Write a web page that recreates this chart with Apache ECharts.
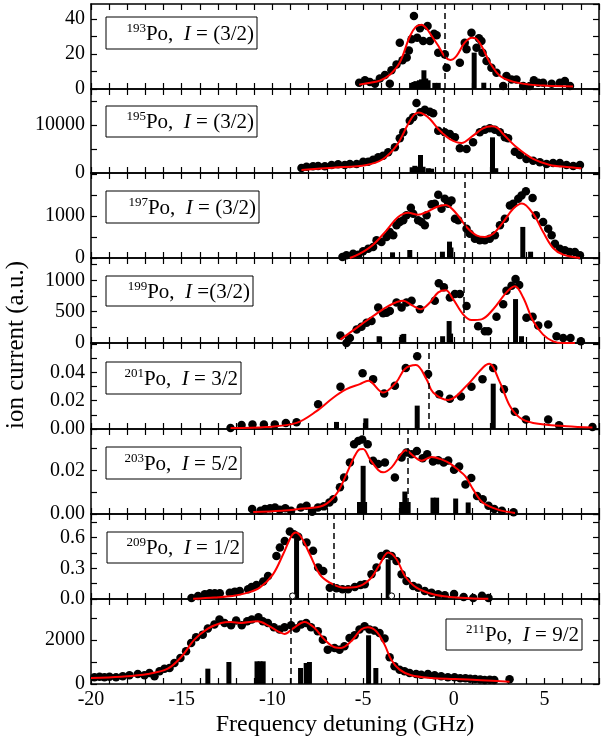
<!DOCTYPE html>
<html>
<head>
<meta charset="utf-8">
<script src="https://cdn.jsdelivr.net/npm/echarts@6/dist/echarts.min.js"></script>
</head>
<body style="margin:0">
<div id="container" style="width:601px;height:746px"></div>
<script>
// ---- data (x in GHz) ----
var p193Dots = [[-5.22,3.6],[-4.9,5],[-4.63,4],[-4.35,3],[-4.08,6],[-3.8,8],[-3.53,3],[-3.44,10.7],[-3.16,14],[-2.98,26.5],[-2.83,16.4],[-2.6,18],[-2.48,22],[-2.33,28.4],[-2.2,41.7],[-2.02,29.3],[-1.87,34.7],[-1.69,27.4],[-1.45,36],[-1.32,27.4],[-1.09,31.6],[-0.95,30.7],[-0.86,20.7],[-0.5,19.8],[-0.4,12.2],[0.33,15],[0.6,26.5],[0.7,22.7],[0.97,32.2],[1.25,23.6],[1.38,29],[1.52,27.4],[1.58,20.7],[1.8,16],[2.07,12.2],[2.35,9.3],[2.72,1.7],[2.9,7.4],[3.18,5.5],[3.45,5.5],[3.82,1.7],[4.19,1.7],[4.41,5],[4.65,3.6],[4.92,3.6],[5.39,3],[5.84,3.6],[6.12,4.6],[6.4,1.7]];
var p193Fit = [[-5.22,2.5],[-4.6,3.6],[-4.08,4.8],[-3.53,8.2],[-2.98,15.2],[-2.43,30],[-2.1,35.5],[-1.78,36.8],[-1.5,34.5],[-1.2,30],[-0.86,24.7],[-0.5,18.5],[-0.2,16.6],[0.15,19],[0.6,26.5],[1.0,29.3],[1.2,29],[1.52,24.7],[1.98,15.2],[2.53,7.6],[3.26,4.2],[4.19,2.5],[5.1,1.9],[6.57,1.5]];
var p193Bars = [[-2.33,3.5],[-2.2,4],[-2.09,4.5],[-1.9,5],[-1.78,5.5],[-1.65,10.7],[-1.55,6],[-1.42,5],[-1.05,3.5],[-0.86,3.5],[1.12,20.8],[1.65,3.6]];

var p195Dots = [[-8.4,1040],[-8.12,1320],[-7.76,1390],[-7.48,1460],[-7.11,1390],[-6.74,1670],[-6.38,1800],[-6.01,1670],[-5.73,1875],[-5.36,1875],[-5.0,2360],[-4.72,2360],[-4.45,2780],[-4.17,3260],[-3.9,3610],[-3.62,4300],[-3.25,5350],[-2.98,7230],[-2.79,8470],[-2.43,10900],[-2.24,11600],[-2.06,14580],[-1.84,12640],[-1.6,13190],[-1.32,12780],[-1.14,12430],[-0.86,8820],[-0.5,8470],[-0.22,8120],[0.06,7430],[0.33,5140],[0.7,5000],[1.06,6390],[1.43,8470],[1.71,9030],[1.98,9300],[2.26,9030],[2.54,8470],[2.81,7430],[2.99,7230],[3.36,4440],[3.64,3750],[4.0,2920],[4.37,2570],[4.74,2220],[5.11,1870],[5.47,2080],[5.84,2080],[6.21,1670],[6.58,1460],[6.95,1670]];
var p195Fit = [[-8.4,625],[-6.65,1110],[-4.81,1670],[-3.9,2920],[-3.16,5690],[-2.52,10200],[-2.2,12100],[-1.93,12600],[-1.6,12100],[-1.32,11250],[-0.77,8820],[-0.22,7080],[0.42,6250],[1.06,7780],[1.61,9300],[2.07,9720],[2.4,9400],[2.72,8120],[3.46,5350],[4.37,2920],[5.29,1670],[6.21,1250],[7.03,980]];
var p195Bars = [[-2.3,1200],[-2.15,1500],[-2.0,1300],[-1.84,3750],[-1.7,1300],[-1.41,1000],[-1.23,900],[2.13,7430],[2.31,1000]];

var p197Dots = [[-6.14,24],[-5.92,63],[-5.55,103],[-5.27,79],[-5,159],[-4.72,222],[-4.45,262],[-4.26,421],[-3.99,381],[-3.71,500],[-3.53,619],[-3.34,540],[-3.16,778],[-2.98,857],[-2.79,897],[-2.61,1016],[-2.37,1198],[-2.24,1055],[-1.97,897],[-1.78,857],[-1.6,778],[-1.5,1016],[-1.23,1277],[-1.05,1293],[-0.86,1507],[-0.68,1174],[-0.5,1412],[-0.31,1293],[-0.13,1372],[0.06,936],[0.24,897],[0.7,698],[0.88,579],[1.16,460],[1.43,421],[1.71,421],[1.98,460],[2.26,540],[2.54,778],[2.81,936],[3.09,1253],[3.27,1293],[3.55,1412],[3.73,1491],[3.97,1587],[4.34,1428],[4.52,1016],[4.92,857],[5.2,698],[5.39,540],[5.57,341],[5.84,222],[6.12,182],[6.39,143],[6.67,143],[6.95,63]];
var p197Fit = [[-5.73,0],[-5.18,103],[-4.45,317],[-3.71,659],[-3.07,976],[-2.52,1079],[-1.97,1031],[-1.5,1095],[-0.95,1214],[-0.45,1265],[0.15,1055],[0.7,738],[1.24,540],[1.71,500],[2.17,579],[2.72,857],[3.27,1174],[3.75,1300],[4.37,1055],[4.92,619],[5.47,238],[6.02,79],[6.95,0]];
var p197Bars = [[-3.38,135],[-2.43,190],[-0.63,150],[-0.24,390],[-0.16,250],[3.8,740],[4.23,150]];

var p199Dots = [[-6.25,118],[-5.92,0],[-5.73,81],[-5.36,215],[-5.09,258],[-4.81,323],[-4.54,350],[-4.17,565],[-3.9,473],[-3.71,484],[-3.53,511],[-3.16,645],[-2.88,565],[-2.61,645],[-2.33,672],[-1.87,538],[-1.05,672],[-0.83,952],[-0.55,887],[-0.22,726],[0.06,780],[0.33,780],[0.7,591],[1.34,269],[1.71,188],[1.89,188],[2.35,420],[2.72,618],[2.9,834],[3.18,914],[3.4,1021],[3.6,925],[4.0,403],[4.34,420],[4.65,280],[5.2,296],[5.66,108],[6.03,81],[6.43,81],[7.0,27]];
var p199Fit = [[-6.25,54],[-5.36,242],[-4.45,430],[-3.53,602],[-2.79,672],[-2.3,600],[-1.84,538],[-1.32,645],[-0.86,807],[-0.44,840],[-0.04,699],[0.51,457],[0.97,366],[1.52,377],[2.17,538],[2.9,807],[3.36,904],[3.82,726],[4.37,350],[4.92,134],[5.47,27],[6.02,0],[6.67,0]];
var p199Bars = [[-4.12,108],[-2.85,130],[-2.76,145],[-0.62,108],[-0.26,350],[-0.18,150],[3.4,700],[3.73,108]];

var p201Dots = [[-12.31,0.0007],[-11.7,0.0029],[-11.1,0.0031],[-10.47,0.0031],[-9.87,0.0031],[-9.26,0.0043],[-8.67,0.0048],[-7.48,0.0174],[-6.25,0.0298],[-5.03,0.0393],[-4.45,0.0352],[-3.84,0.025],[-3.25,0.0305],[-2.65,0.0431],[-2.02,0.0514],[-1.42,0.0388],[-0.81,0.0245],[-0.22,0.0214],[0.39,0.0229],[0.97,0.0298],[1.58,0.0352],[2.17,0.0431],[2.76,0.0281],[3.36,0.0121],[3.97,0.0067],[5.2,0.0067],[5.8,0.0026],[7.64,0.0014]];
var p201Fit = [[-12.31,0.0007],[-10.33,0.0014],[-8.67,0.0043],[-7.57,0.0126],[-6.65,0.0221],[-5.92,0.0281],[-5.18,0.0317],[-4.72,0.034],[-3.9,0.0257],[-3.16,0.0333],[-2.7,0.0424],[-2.09,0.0452],[-1.51,0.0352],[-1.14,0.0257],[-0.31,0.0205],[0.7,0.0305],[1.62,0.0436],[1.95,0.046],[2.54,0.0329],[3.09,0.0162],[3.64,0.0079],[4.37,0.0043],[6.21,0.0019],[7.64,0.001]];
var p201Bars = [[-6.47,0.005],[-4.85,0.0075],[-2.02,0.0165],[2.17,0.032]];

var p203Dots = [[-11.12,0.0023],[-10.66,0.0015],[-10.41,0.0023],[-10.13,0.0026],[-9.86,0.003],[-9.6,0.002],[-9.29,0.0026],[-8.97,0.0015],[-8.44,0.003],[-8.12,0.0038],[-7.81,0.001],[-7.49,0.003],[-7.17,0.0035],[-6.86,0.0053],[-6.64,0.0068],[-6.28,0.0123],[-6.05,0.0168],[-5.73,0.0236],[-5.5,0.032],[-5.27,0.0335],[-5.05,0.0342],[-4.75,0.032],[-4.45,0.0244],[-4.17,0.0229],[-3.8,0.0236],[-3.25,0.0168],[-2.88,0.0259],[-2.61,0.0282],[-2.33,0.0274],[-2.04,0.0289],[-1.72,0.0256],[-1.47,0.0274],[-1.15,0.0241],[-0.86,0.0247],[-0.56,0.0236],[-0.31,0.0245],[0.01,0.0203],[0.29,0.0218],[0.64,0.0135],[0.96,0.0165],[1.28,0.0083],[1.59,0.0068],[1.91,0.0038],[2.23,0.0023],[2.65,0.0015],[3.29,0.0008]];
var p203Fit = [[-11.06,0.0009],[-9.5,0.0015],[-8.49,0.0024],[-7.2,0.0039],[-6.47,0.0092],[-5.92,0.0183],[-5.46,0.0267],[-5.18,0.0297],[-5.0,0.0298],[-4.63,0.0252],[-4.17,0.0202],[-3.9,0.0191],[-3.43,0.0214],[-2.98,0.0267],[-2.65,0.0292],[-2.24,0.0267],[-1.78,0.0244],[-1.23,0.0262],[-0.59,0.0247],[-0.22,0.0232],[0.2,0.0205],[0.64,0.0173],[1.06,0.0113],[1.59,0.0053],[2.43,0.002],[3.37,0.0005]];
var p203Bars = [[-5.2,0.0055],[-5.0,0.0221],[-4.92,0.0055],[-2.88,0.0055],[-2.7,0.0103],[-2.52,0.0055],[-1.15,0.0075],[-0.95,0.0075],[0.1,0.0071],[0.79,0.0053]];

var p209Dots = [[-14.46,0.01],[-14.1,0.029],[-13.73,0.046],[-13.45,0.055],[-13.18,0.055],[-12.9,0.055],[-12.35,0.062],[-12.07,0.072],[-11.8,0.078],[-11.34,0.095],[-11.15,0.117],[-10.88,0.137],[-10.51,0.17],[-10.24,0.225],[-9.78,0.42],[-9.59,0.502],[-9.32,0.567],[-9.04,0.659],[-8.82,0.633],[-8.58,0.607],[-8.12,0.551],[-7.76,0.47],[-7.48,0.307],[-7.2,0.274],[-6.84,0.111],[-6.47,0.104],[-6.14,0.095],[-5.83,0.095],[-5.46,0.117],[-5.14,0.137],[-4.91,0.143],[-4.54,0.241],[-4.26,0.307],[-3.99,0.42],[-3.71,0.443],[-3.43,0.42],[-3.16,0.372],[-2.88,0.241],[-2.61,0.176],[-2.24,0.127],[-1.97,0.111],[-1.6,0.078],[-1.23,0.062],[-0.86,0.046],[-0.5,0.036],[0.01,0.048],[0.54,0.019],[1.07,0.01],[1.55,0.032],[1.91,0.01]];
var p209Fit = [[-14.37,0.003],[-13.2,0.015],[-12.2,0.029],[-11.4,0.06],[-10.7,0.111],[-9.97,0.241],[-9.41,0.437],[-8.95,0.616],[-8.71,0.649],[-8.4,0.6],[-7.94,0.437],[-7.39,0.241],[-6.84,0.16],[-6.1,0.111],[-5.37,0.117],[-4.63,0.192],[-4.08,0.339],[-3.62,0.453],[-3.16,0.388],[-2.7,0.225],[-2.06,0.111],[-1.14,0.046],[-0.22,0.02],[0.9,0.008],[1.9,0.003]];
var p209Bars = [[-8.67,0.593],[-3.62,0.388]];
var p209Open = [[-8.89,0.03],[-3.43,0.03]];

var p211Dots = [[-19.81,303],[-19.53,333],[-19.26,303],[-18.98,333],[-18.62,303],[-18.25,348],[-17.88,394],[-17.42,455],[-17.05,394],[-16.78,500],[-16.5,348],[-16.22,576],[-15.95,697],[-15.67,727],[-15.4,955],[-15.07,1182],[-14.76,1485],[-14.48,1864],[-14.21,2121],[-13.84,2242],[-13.56,2515],[-13.2,2697],[-12.92,2924],[-12.64,2773],[-12.28,2667],[-12.0,2879],[-11.69,2667],[-11.39,2848],[-11.14,2924],[-10.77,3030],[-10.53,2848],[-10.25,2773],[-9.92,2576],[-9.61,2470],[-9.33,2576],[-8.97,2667],[-8.69,2515],[-8.42,2697],[-8.14,2773],[-7.87,2576],[-7.5,2394],[-7.22,2015],[-6.95,1561],[-6.58,1636],[-6.3,1561],[-6.03,1712],[-5.75,2091],[-5.47,2212],[-5.2,2470],[-4.92,2621],[-4.65,2470],[-4.37,2424],[-4.1,2318],[-3.82,2061],[-3.54,1212],[-3.27,803],[-2.99,652],[-2.72,576],[-2.44,500],[-2.08,455],[-1.8,424],[-1.43,455],[-1.06,394],[-0.7,348],[-0.33,303],[0.04,303],[0.35,260],[0.64,258],[0.9,240],[1.17,227],[1.45,210],[1.7,182],[1.98,190],[2.23,182],[3.07,212]];
var p211Fit = [[-20,273],[-18.34,333],[-16.87,455],[-15.77,697],[-15.04,1212],[-14.3,2015],[-13.56,2515],[-12.83,2773],[-12.28,2818],[-11.73,2773],[-10.81,2848],[-10.25,2667],[-9.7,2394],[-9.33,2273],[-8.88,2515],[-8.23,2818],[-7.68,2545],[-7.13,2015],[-6.58,1667],[-6.21,1636],[-5.66,1939],[-5.11,2470],[-4.74,2576],[-4.28,2394],[-3.82,1788],[-3.45,1106],[-2.99,652],[-2.35,394],[-1.25,273],[0.04,227],[1.5,170],[3.07,106]];
var p211Bars = [[-13.56,697],[-12.4,1000],[-10.85,1030],[-10.68,1030],[-10.51,1030],[-8.45,727],[-8.14,955],[-7.96,1000],[-4.7,2212],[-4.3,727]];

var centroids = [-0.5, -0.55, 0.6, 0.52, -1.36, -2.52, -6.6, -8.97];
var massNumbers = ['193', '195', '197', '199', '201', '203', '209', '211'];
var spinTexts = [' = (3/2)', ' = (3/2)', ' = (3/2)', ' =(3/2)', ' = 3/2', ' = 5/2', ' = 1/2', ' = 9/2'];
var yMaxes = [48.6, 17500, 2024, 1355, 0.0607, 0.039, 0.83, 3860];
var ySteps = [10, 5000, 500, 250, 0.01, 0.01, 0.15, 1000];
var yLabelValues = [[0,20,40],[0,10000],[0,1000],[0,500,1000],[0,0.02,0.04],[0,0.02],[0,0.3,0.6],[0,2000]];
var yDecimals = [0, 0, 0, 0, 2, 2, 1, 0];

var allDots = [p193Dots, p195Dots, p197Dots, p199Dots, p201Dots, p203Dots, p209Dots, p211Dots];
var allFits = [p193Fit, p195Fit, p197Fit, p199Fit, p201Fit, p203Fit, p209Fit, p211Fit];
var allBars = [p193Bars, p195Bars, p197Bars, p199Bars, p201Bars, p203Bars, p209Bars, p211Bars];

// layout
var gridTops = [4, 89, 173, 258, 343, 429, 514, 599, 684];
var boxes = [[106,17,151,32],[106,106,151,31],[106,191,153,32],[106,276,147,30],[106,362,135,32],[106,447,135,32],[107,532,136,31],[446,619,136,31]];
var serif = '"Liberation Serif", "Times New Roman", serif';

var dom = document.getElementById('container');
var myChart = echarts.init(dom, null, { renderer: 'canvas' });

var grids = [], xAxes = [], yAxes = [], series = [], graphics = [];

for (var i = 0; i < 8; i++) {
    grids.push({ left: 91, width: 508, top: gridTops[i], height: gridTops[i + 1] - gridTops[i], outerBoundsMode: 'none' });

    var isLast = (i === 7);
    ['bottom', 'top'].forEach(function (pos) {
        xAxes.push({
            gridIndex: i, type: 'value', position: pos, min: -20, max: 8, interval: 1,
            axisLine: { show: true, onZero: false, lineStyle: { color: '#000', width: 1.5 } },
            axisTick: { show: true, inside: true, length: 6, lineStyle: { color: '#000', width: 1.2 } },
            axisLabel: {
                show: isLast && pos === 'bottom', margin: 6, color: '#000', fontFamily: serif, fontSize: 20,
                formatter: function (v) { return (Math.abs(v % 5) < 1e-9 && v < 8) ? String(v) : ''; }
            },
            splitLine: { show: false },
            name: (isLast && pos === 'bottom') ? 'Frequency detuning (GHz)' : '',
            nameLocation: 'middle', nameGap: 29,
            nameTextStyle: { color: '#000', fontFamily: serif, fontSize: 24 }
        });
    });

    (function (idx) {
        ['left', 'right'].forEach(function (pos) {
            yAxes.push({
                gridIndex: idx, type: 'value', position: pos, min: 0, max: yMaxes[idx], interval: ySteps[idx],
                axisLine: { show: true, onZero: false, lineStyle: { color: '#000', width: 1.5 } },
                axisTick: { show: true, inside: true, length: 6, lineStyle: { color: '#000', width: 1.2 } },
                axisLabel: {
                    show: pos === 'left', margin: 6, color: '#000', fontFamily: serif, fontSize: 20,
                    showMaxLabel: false,
                    formatter: function (v) {
                        var labs = yLabelValues[idx];
                        for (var k = 0; k < labs.length; k++) {
                            if (Math.abs(v - labs[k]) < 1e-9) return labs[k].toFixed(yDecimals[idx]);
                        }
                        return '';
                    }
                },
                splitLine: { show: false }
            });
        });
    })(i);

    series.push({
        type: 'bar', xAxisIndex: 2 * i, yAxisIndex: 2 * i, data: allBars[i],
        barWidth: 5, itemStyle: { color: '#000' }, z: 1, silent: true, animation: false
    });
    series.push({
        type: 'scatter', xAxisIndex: 2 * i, yAxisIndex: 2 * i, data: allDots[i],
        symbolSize: 8.5, itemStyle: { color: '#000', opacity: 1 }, z: 2, silent: true, animation: false
    });
    series.push({
        type: 'line', xAxisIndex: 2 * i, yAxisIndex: 2 * i, data: allFits[i],
        smooth: 0.35, showSymbol: false, lineStyle: { color: '#ff0000', width: 2 }, z: 3,
        silent: true, animation: false,
        markLine: {
            silent: true, symbol: ['none', 'none'], label: { show: false },
            lineStyle: { color: '#000', type: [6, 4], width: 1.5 },
            data: [{ xAxis: centroids[i] }]
        }
    });

    var b = boxes[i];
    graphics.push({
        type: 'rect', shape: { x: b[0], y: b[1], width: b[2], height: b[3] },
        style: { fill: '#fff', stroke: '#000', lineWidth: 1 }, z: 100
    });
    graphics.push({
        type: 'text', x: b[0] + b[2] - 3, y: b[1] + b[3] / 2 + 1, z: 101,
        style: {
            text: '{m|' + massNumbers[i] + '}{t|Po,  }{i|I}{t|' + spinTexts[i] + '}',
            align: 'right', verticalAlign: 'middle',
            rich: {
                m: { fontFamily: serif, fontSize: 13, fill: '#000', verticalAlign: 'top', lineHeight: 24 },
                t: { fontFamily: serif, fontSize: 21, fill: '#000', lineHeight: 24 },
                i: { fontFamily: serif, fontSize: 21, fontStyle: 'italic', fill: '#000', lineHeight: 24 }
            }
        }
    });
}

series.push({
    type: 'scatter', xAxisIndex: 12, yAxisIndex: 12, data: p209Open,
    symbolSize: 6, itemStyle: { color: '#fff', borderColor: '#000', borderWidth: 1, opacity: 1 }, z: 4,
    silent: true, animation: false
});

graphics.push({
    type: 'text', x: 16, y: 345, rotation: Math.PI / 2,
    style: { text: 'ion current (a.u.)', fontFamily: serif, fontSize: 25, fill: '#000', align: 'center', verticalAlign: 'middle' }
});

var option = {
    backgroundColor: '#fff',
    animation: false,
    grid: grids,
    xAxis: xAxes,
    yAxis: yAxes,
    series: series,
    graphic: graphics
};

if (option && typeof option === 'object') {
    myChart.setOption(option);
}
</script>
</body>
</html>
